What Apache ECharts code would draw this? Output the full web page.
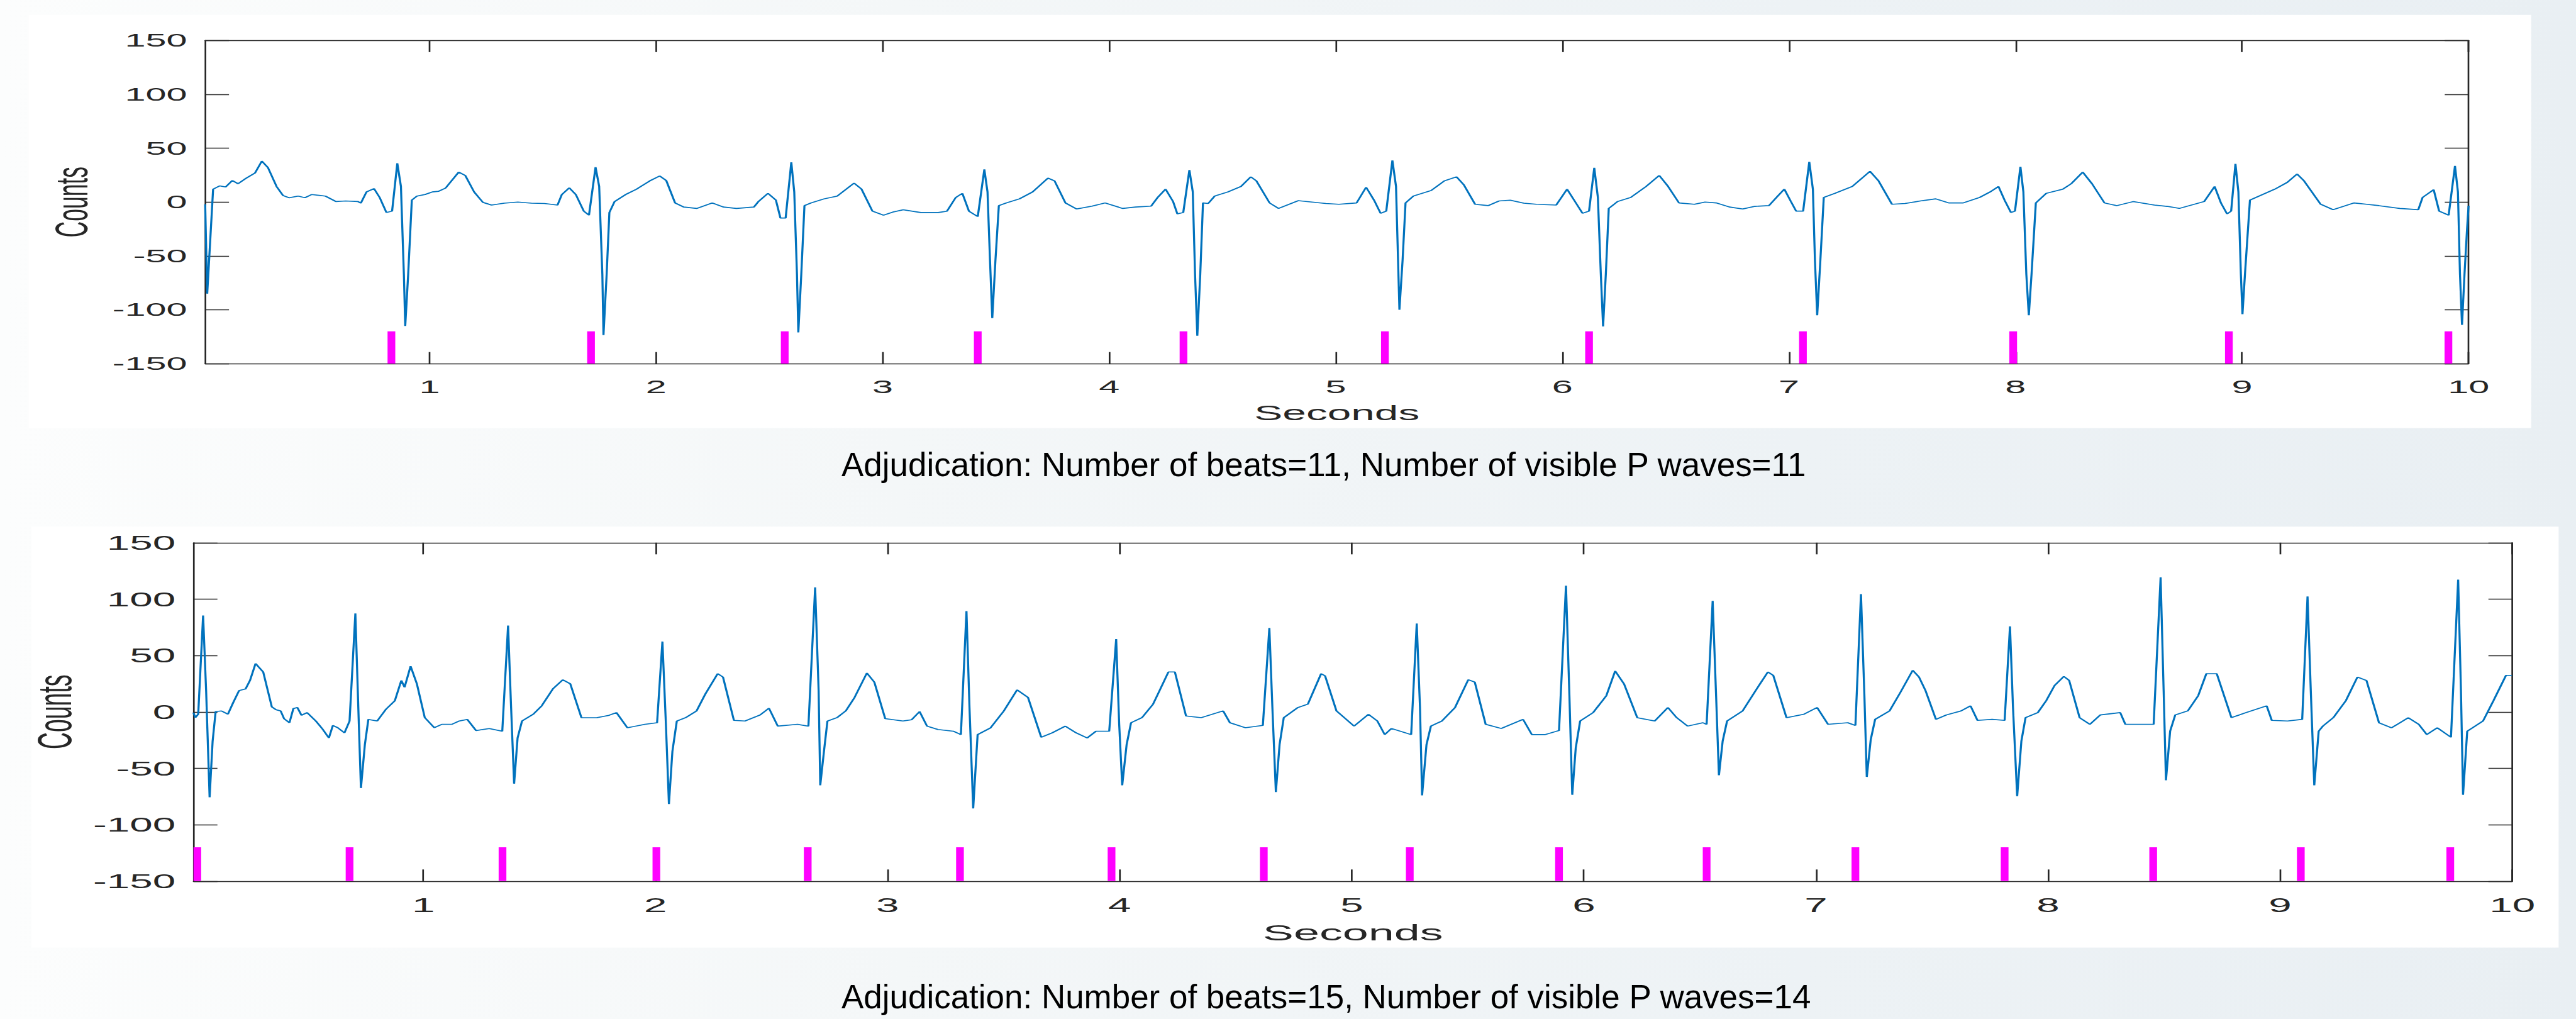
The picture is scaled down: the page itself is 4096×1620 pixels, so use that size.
<!DOCTYPE html>
<html>
<head>
<meta charset="utf-8">
<script src="https://cdn.jsdelivr.net/npm/echarts@6/dist/echarts.min.js"></script>
<style>
html,body{margin:0;padding:0;width:4096px;height:1620px;overflow:hidden;
background:linear-gradient(90deg,#fcfdfd 0%,#f4f7f8 35%,#edf2f5 70%,#e9eff3 100%);}
#chart{position:absolute;left:0;top:0;width:2000px;height:1620px;transform:scaleX(2.048);transform-origin:0 0;}
</style>
</head>
<body>
<div id="chart"></div>
<script>
// ---------------- data ----------------
const xTickValues = [1,2,3,4,5,6,7,8,9,10];
const yTickInterval = 50;
const yMin = -150, yMax = 150;
const xMin = 0.01, xMax = 10;
const MARK_LOW = -150, MARK_HIGH = -120;

const topBeatTimes = [0.832,1.713,2.568,3.420,4.328,5.217,6.118,7.062,7.99,8.942,9.911];
const bottomBeatTimes = [0.026,0.682,1.341,2.004,2.656,3.312,3.965,4.621,5.250,5.893,6.529,7.170,7.813,8.453,9.089,9.733];

const topTrace = [[0.010,-2],[0.019,-85],[0.045,12],[0.074,15],[0.10,14],[0.13,20],[0.155,17],[0.19,22],[0.23,27],[0.26,38],[0.287,32],[0.325,14.5],[0.354,6],[0.38,4],[0.42,5.6],[0.45,4],[0.48,7],[0.54,5.6],[0.587,0.5],[0.63,1],[0.684,0.5],[0.697,-1],[0.722,9.4],[0.755,12.5],[0.78,4.3],[0.81,-9.7],[0.835,-8.4],[0.858,36],[0.874,14.5],[0.887,-67],[0.893,-115],[0.906,-67],[0.922,1.8],[0.945,5.6],[0.98,7],[1.013,9.4],[1.04,10],[1.071,13],[1.129,27.8],[1.158,24.7],[1.197,9.4],[1.236,-0.3],[1.274,-2.8],[1.33,-1],[1.39,0],[1.45,-1],[1.507,-1.3],[1.565,-2.8],[1.584,6.9],[1.617,13.2],[1.646,6.9],[1.681,-8.4],[1.704,-12.2],[1.733,32.3],[1.749,14.5],[1.763,-67],[1.768,-123.5],[1.782,-67],[1.794,-9.7],[1.817,0.5],[1.865,6.9],[1.914,12],[1.972,19.6],[2.016,24.2],[2.045,20],[2.084,-0.8],[2.122,-4.6],[2.18,-5.9],[2.248,-0.8],[2.297,-4.6],[2.355,-5.9],[2.432,-4.6],[2.452,0.5],[2.494,8.1],[2.529,1.8],[2.549,-14.8],[2.572,-14.8],[2.597,36.9],[2.61,9.4],[2.622,-67],[2.628,-121],[2.641,-67],[2.655,-3.3],[2.684,-0.8],[2.742,3],[2.8,5.6],[2.874,17.6],[2.907,12],[2.955,-8.4],[3.004,-12.2],[3.05,-9],[3.091,-7.1],[3.168,-9.7],[3.246,-9.7],[3.284,-8.4],[3.323,4.3],[3.352,8.1],[3.381,-8.4],[3.42,-13.5],[3.449,30.3],[3.463,9.4],[3.474,-54],[3.484,-107.7],[3.498,-54],[3.513,-3.3],[3.546,-0.8],[3.604,3],[3.662,9.4],[3.73,22.2],[3.759,19.6],[3.807,-0.8],[3.856,-6.4],[3.924,-3.8],[3.982,-0.8],[4.059,-5.9],[4.117,-4.6],[4.185,-3.8],[4.214,4.3],[4.249,12],[4.282,0.5],[4.301,-11],[4.327,-9.7],[4.354,29.8],[4.369,9.4],[4.379,-67],[4.389,-124],[4.402,-67],[4.414,-0.8],[4.437,-1.3],[4.466,5.6],[4.524,9.4],[4.582,14.5],[4.625,23.4],[4.65,19.6],[4.708,-0.8],[4.747,-5.9],[4.834,1.3],[4.956,-1.3],[5.014,-2],[5.092,-0.8],[5.134,13.8],[5.169,1.8],[5.198,-10.4],[5.223,-8.4],[5.25,38.7],[5.266,14.5],[5.275,-54],[5.281,-100],[5.295,-54],[5.308,-0.8],[5.343,5.6],[5.421,10.7],[5.479,19.6],[5.533,23.4],[5.566,15.8],[5.615,-2],[5.673,-3.3],[5.72,1],[5.77,1.8],[5.83,-1],[5.886,-2],[5.973,-2.8],[6.021,12],[6.06,-0.8],[6.089,-10.4],[6.118,-8.4],[6.141,31.8],[6.157,4.3],[6.17,-67],[6.18,-115.4],[6.192,-67],[6.205,-5.9],[6.244,0.5],[6.302,4.3],[6.37,14.5],[6.428,24.7],[6.467,14.5],[6.515,-0.8],[6.583,-2],[6.63,0],[6.68,-0.8],[6.738,-4.6],[6.796,-6.4],[6.85,-4],[6.912,-3.3],[6.951,5.6],[6.98,12],[7.009,0.5],[7.032,-8.4],[7.063,-8.4],[7.09,37.4],[7.106,12],[7.115,-54],[7.125,-105],[7.139,-54],[7.154,4.3],[7.203,8.1],[7.28,14.5],[7.358,28.5],[7.396,19.6],[7.455,-2],[7.513,-1.3],[7.58,1],[7.648,3],[7.706,-0.8],[7.769,-0.8],[7.842,4.3],[7.888,9.4],[7.925,14.5],[7.952,1.8],[7.98,-9.7],[7.998,-8.4],[8.022,32.8],[8.035,9.4],[8.048,-67],[8.059,-105],[8.071,-67],[8.09,-0.8],[8.136,8.1],[8.209,12],[8.246,17],[8.297,27.8],[8.338,17],[8.393,-0.8],[8.448,-3.3],[8.521,0.5],[8.613,-2.8],[8.67,-4],[8.723,-5.9],[8.833,0.5],[8.879,14.5],[8.907,-0.8],[8.934,-11],[8.952,-8.4],[8.971,35.4],[8.984,9.4],[8.995,-67],[9.002,-104],[9.013,-67],[9.035,1.8],[9.09,6.9],[9.145,12],[9.2,18.3],[9.243,26],[9.274,19.6],[9.347,-2],[9.402,-7.1],[9.494,-0.8],[9.55,-2],[9.604,-3.3],[9.696,-5.9],[9.778,-7.1],[9.797,4.3],[9.846,11.5],[9.87,-8.4],[9.912,-12.2],[9.94,33.6],[9.953,9.4],[9.962,-67],[9.971,-114],[9.982,-67],[9.993,-26],[10.0,-3.3]];

const bottomTrace = [[0.009,-0.6],[0.018,-5],[0.03,-2],[0.051,85.5],[0.064,18.9],[0.079,-75.6],[0.092,-26],[0.105,0.3],[0.13,0.9],[0.158,-2],[0.18,8],[0.206,18.9],[0.234,20.4],[0.253,27.9],[0.277,42.9],[0.31,35.4],[0.347,4.5],[0.365,2],[0.385,0.9],[0.40,-6],[0.423,-9.6],[0.44,3],[0.457,3.9],[0.475,-3],[0.499,-0.6],[0.537,-8.1],[0.565,-15],[0.593,-23.1],[0.61,-12],[0.631,-14],[0.66,-18.6],[0.682,-8.1],[0.707,87.3],[0.722,-11],[0.731,-67.5],[0.748,-29],[0.763,-6.6],[0.801,-8.1],[0.839,2.4],[0.877,9.9],[0.905,27.9],[0.919,21.9],[0.945,40.5],[0.972,24.9],[1.006,-5],[1.047,-14],[1.08,-11],[1.123,-11],[1.155,-8],[1.189,-6.6],[1.227,-16.5],[1.284,-14.7],[1.34,-17.1],[1.365,76.5],[1.378,3.9],[1.391,-63.6],[1.406,-23],[1.425,-8.1],[1.473,-2.1],[1.51,5.4],[1.558,20.4],[1.601,28.5],[1.633,24.9],[1.681,-5.1],[1.747,-5.1],[1.80,-3],[1.832,-0.6],[1.879,-14],[1.955,-11],[2.007,-9.6],[2.03,62.4],[2.045,-11],[2.058,-81.6],[2.073,-35],[2.092,-8.1],[2.13,-5.1],[2.177,0.9],[2.215,15.9],[2.268,33.9],[2.291,30.9],[2.338,-7.5],[2.385,-8.1],[2.451,-2.7],[2.489,3.3],[2.527,-12.6],[2.612,-11],[2.659,-12.6],[2.688,110.4],[2.703,18.9],[2.71,-65.1],[2.726,-35],[2.741,-8.1],[2.782,-5.1],[2.82,0.9],[2.858,12.9],[2.911,34.5],[2.943,26.4],[2.99,-6],[3.066,-8.1],[3.104,-6.9],[3.138,0.3],[3.17,-12.6],[3.217,-15.6],[3.283,-17.1],[3.316,-20.1],[3.34,89.4],[3.353,3.9],[3.369,-85.5],[3.388,-20.1],[3.444,-14.1],[3.501,0.9],[3.558,19.5],[3.605,12.9],[3.662,-22.5],[3.709,-18.6],[3.766,-12.6],[3.813,-18.6],[3.86,-23.1],[3.898,-17.1],[3.955,-17.1],[3.985,64.5],[3.998,-11],[4.011,-65.1],[4.03,-29],[4.049,-9.6],[4.096,-5.1],[4.144,6.9],[4.172,18.9],[4.21,35.4],[4.238,35.4],[4.286,-3.6],[4.352,-5.1],[4.446,0.9],[4.475,-9.6],[4.541,-14],[4.617,-12],[4.645,74.4],[4.658,3.9],[4.673,-71],[4.689,-29],[4.707,-5.1],[4.768,3.9],[4.811,6.9],[4.868,33.9],[4.885,32],[4.934,0.9],[5.01,-12.6],[5.072,-2.1],[5.11,-8],[5.142,-20.1],[5.171,-14.7],[5.256,-20.1],[5.28,78.3],[5.294,3.9],[5.303,-74],[5.322,-29],[5.341,-12.6],[5.388,-8.1],[5.445,3.9],[5.502,28.5],[5.53,26.4],[5.577,-11],[5.644,-14.7],[5.738,-6.6],[5.776,-20.1],[5.833,-20.1],[5.893,-16.5],[5.923,111.9],[5.938,12.9],[5.95,-73.5],[5.965,-32],[5.984,-8.1],[6.04,-0.6],[6.097,14.4],[6.135,36.3],[6.173,24.9],[6.23,-5.1],[6.305,-8.1],[6.362,3.9],[6.4,-5.1],[6.447,-12.6],[6.513,-9.6],[6.529,-11],[6.555,98.4],[6.57,12.9],[6.582,-56.1],[6.598,-26],[6.617,-8.1],[6.684,0.9],[6.74,18.9],[6.793,35.4],[6.816,32.4],[6.873,-5.1],[6.948,-2.1],[7.005,3.9],[7.052,-11],[7.137,-9.6],[7.17,-12],[7.194,104.4],[7.209,12.9],[7.219,-57.6],[7.236,-24.6],[7.255,-6.6],[7.317,0.9],[7.364,17.4],[7.417,36.9],[7.444,30.9],[7.472,18.9],[7.517,-6.6],[7.562,-2.7],[7.625,0.9],[7.666,5.4],[7.696,-7.5],[7.759,-6.6],[7.813,-7.5],[7.836,75.9],[7.849,3.9],[7.867,-74.7],[7.885,-26],[7.903,-5.1],[7.956,-0.6],[7.992,9.9],[8.028,23.4],[8.068,31.5],[8.091,27.9],[8.136,-5.1],[8.18,-11],[8.225,-2.7],[8.311,-0.6],[8.333,-11],[8.405,-11],[8.455,-11],[8.485,119.4],[8.498,18.9],[8.508,-60.6],[8.526,-17.1],[8.548,-2.7],[8.602,0.9],[8.647,14.4],[8.682,33.9],[8.727,33.9],[8.79,-5.1],[8.853,-0.6],[8.942,5.4],[8.964,-7.5],[9.032,-8.1],[9.095,-6.6],[9.118,102.3],[9.132,18.9],[9.147,-65.1],[9.166,-17.1],[9.184,-12.6],[9.229,-5.1],[9.283,9.9],[9.333,30.9],[9.372,27.9],[9.426,-9.6],[9.48,-14.1],[9.552,-5.1],[9.597,-11],[9.632,-20.1],[9.677,-14.1],[9.736,-22.5],[9.767,117.3],[9.779,18.9],[9.788,-73.5],[9.806,-17.1],[9.829,-14.1],[9.874,-8.1],[9.919,9.9],[9.973,32.4],[9.999,32.4]];

const caption1 = 'Adjudication: Number of beats=11, Number of visible P waves=11';
const caption2 = 'Adjudication: Number of beats=15, Number of visible P waves=14';
const xTitle = 'Seconds';
const yTitle = 'Counts';

// ---------------- styling / layout ----------------
const SX = 2.048;               // horizontal stretch of the plotted figure
const FONT = '"Liberation Sans", Arial, Helvetica, sans-serif';
const AXIS = '#262626';
const LINE = '#0072BD';
const MAG = '#ff00ff';
const MARK_W = 6;

function xAxes(g, fs, nameFs, nameGap) {
  const line = {show:true, onZero:false, lineStyle:{color:AXIS, width:1.3}};
  const tick = {show:true, inside:true, length:18.5, customValues:xTickValues, lineStyle:{color:AXIS, width:1.3}};
  return [
    {type:'value', gridIndex:g, position:'bottom', min:xMin, max:xMax,
     axisLine:line, axisTick:tick,
     axisLabel:{show:true, customValues:xTickValues, margin:22, fontSize:fs, fontFamily:FONT, color:AXIS},
     splitLine:{show:false},
     name:xTitle, nameLocation:'middle', nameGap:nameGap,
     nameTextStyle:{fontSize:nameFs, fontFamily:FONT, color:AXIS}},
    {type:'value', gridIndex:g, position:'top', min:xMin, max:xMax,
     axisLine:line, axisTick:tick, axisLabel:{show:false}, splitLine:{show:false}}
  ];
}
function yAxes(g, fs, nameFs, nameGap) {
  const line = {show:true, onZero:false, lineStyle:{color:AXIS, width:1.3}};
  const tick = {show:true, inside:true, length:18.5, lineStyle:{color:AXIS, width:1.3}};
  return [
    {type:'value', gridIndex:g, position:'left', min:yMin, max:yMax, interval:yTickInterval,
     axisLine:line, axisTick:tick,
     axisLabel:{show:true, margin:14, fontSize:fs, fontFamily:FONT, color:AXIS},
     splitLine:{show:false},
     name:yTitle, nameLocation:'middle', nameGap:nameGap, nameRotate:90,
     nameTextStyle:{fontSize:nameFs, fontFamily:FONT, color:AXIS}},
    {type:'value', gridIndex:g, position:'right', min:yMin, max:yMax, interval:yTickInterval,
     axisLine:line, axisTick:tick, axisLabel:{show:false}, splitLine:{show:false}}
  ];
}
function beatMark(params, api) {
  const t = api.value(0);
  const lo = api.coord([t, MARK_LOW]);
  const hi = api.coord([t, MARK_HIGH]);
  return {type:'rect', shape:{x:lo[0]-MARK_W/2, y:hi[1], width:MARK_W, height:lo[1]-hi[1]}, style:{fill:MAG}};
}
function traceSeries(data, xi, yi) {
  return {type:'line', xAxisIndex:xi, yAxisIndex:yi, data:data, showSymbol:false, symbol:'none',
          lineStyle:{color:LINE, width:1.6}, clip:true, silent:true, z:3};
}
function markSeries(times, xi, yi) {
  return {type:'custom', xAxisIndex:xi, yAxisIndex:yi, data:times.map(t => [t, MARK_LOW]),
          renderItem:beatMark, encode:{x:0, y:1}, clip:true, silent:true, z:2};
}

const chart = echarts.init(document.getElementById('chart'), null, {renderer:'svg'});
chart.setOption({
  animation:false,
  backgroundColor:'transparent',
  grid:[
    {left:159.3, top:64.3, width:1757.3, height:513.9},
    {left:150.3, top:862.8, width:1800.2, height:538}
  ],
  xAxis:[...xAxes(0, 29, 33, 62), ...xAxes(1, 32, 36, 63.5)],
  yAxis:[...yAxes(0, 29, 35.5, 86), ...yAxes(1, 32, 37.5, 88)],
  graphic:[
    {type:'rect', x:22.3, y:23.7, shape:{x:0, y:0, width:1942.9, height:656.7}, style:{fill:'#ffffff'}, z:-10, silent:true},
    {type:'rect', x:24.4, y:837.2, shape:{x:0, y:0, width:1962.1, height:669.4}, style:{fill:'#ffffff'}, z:-10, silent:true},
    {type:'text', x:653.3, y:738.5, scaleX:1/SX, z:10, silent:true,
     style:{text:caption1, fontSize:53, fontFamily:FONT, fill:'#000000', align:'left', verticalAlign:'middle', textAlign:'left', textVerticalAlign:'middle'}},
    {type:'text', x:653.3, y:1584.8, scaleX:1/SX, z:10, silent:true,
     style:{text:caption2, fontSize:53, fontFamily:FONT, fill:'#000000', align:'left', verticalAlign:'middle', textAlign:'left', textVerticalAlign:'middle'}}
  ],
  series:[
    traceSeries(topTrace, 0, 0),
    markSeries(topBeatTimes, 0, 0),
    traceSeries(bottomTrace, 2, 2),
    markSeries(bottomBeatTimes, 2, 2)
  ]
});
</script>
</body>
</html>
